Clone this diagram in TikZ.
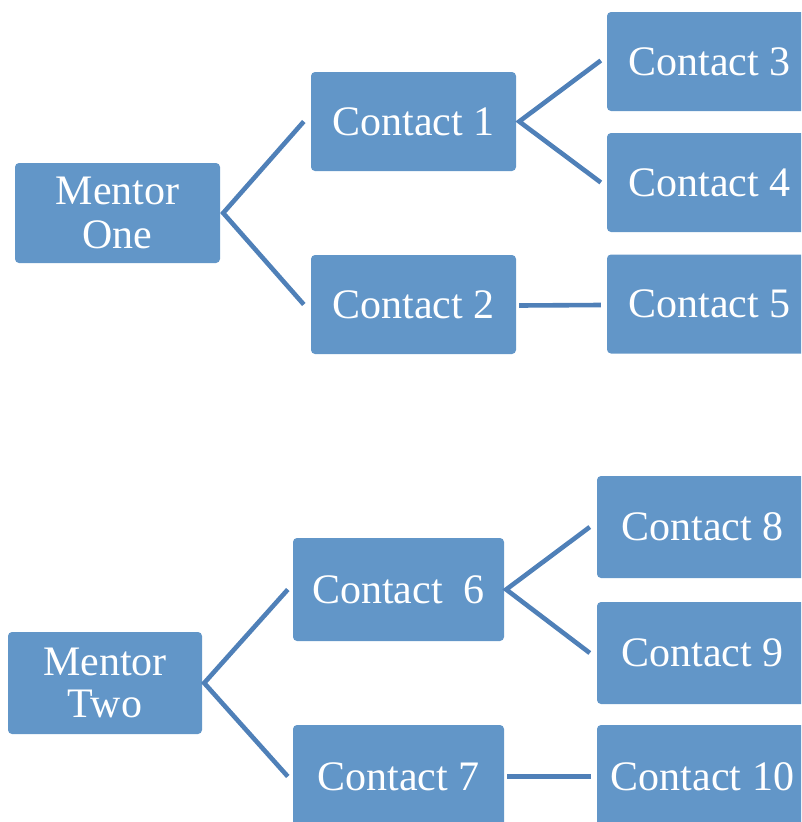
\documentclass[tikz,border=0pt]{standalone}
\usepackage{fontspec}
\setmainfont{Liberation Serif}
\definecolor{boxfill}{RGB}{98,150,200}
\definecolor{linkcol}{RGB}{79,128,184}
\begin{document}
\begin{tikzpicture}[x=1pt,y=-1pt,
  box/.style={rectangle, rounded corners=4pt, fill=boxfill, text=white, inner sep=0pt,
    align=center, font=\fontsize{42}{46}\selectfont},
  link/.style={draw=linkcol, line width=4.6pt}]
\useasboundingbox (0,0) rectangle (801,822);
\clip (0,0) rectangle (801,822);
% top tree
\node[box, minimum width=205pt, minimum height=100pt] (m1) at (117.5,213) {Mentor\\[-2pt]One};
\node[box, minimum width=205pt, minimum height=99pt] (c1) at (413.5,121.5) {Contact 1};
\node[box, minimum width=205pt, minimum height=99pt] (c2) at (413.5,304.5) {Contact 2};
\node[box, minimum width=205pt, minimum height=99pt] (c3) at (709.5,61.5) {Contact 3};
\node[box, minimum width=205pt, minimum height=99pt] (c4) at (709.5,182.5) {Contact 4};
\node[box, minimum width=205pt, minimum height=99pt] (c5) at (709.5,304) {Contact 5};
\coordinate (j1) at ([xshift=3pt]m1.east);
\coordinate (j2) at ([xshift=3pt]c1.east);
\draw[link] ([xshift=-7pt]c1.west) -- (j1) -- ([xshift=-7pt]c2.west);
\draw[link] ([xshift=-6pt,yshift=1pt]c3.west) -- (j2) -- ([xshift=-6pt]c4.west);
\draw[link] ([xshift=3pt,yshift=-1pt]c2.east) -- ([xshift=-6pt,yshift=-1pt]c5.west);
% bottom tree
\node[box, minimum width=194pt, minimum height=102pt] (m2) at (105,683) {Mentor\\[-4pt]Two};
\node[box, minimum width=211pt, minimum height=103pt] (c6) at (398.5,589.5) {Contact~~6};
\node[box, minimum width=211pt, minimum height=103pt] (c7) at (398.5,776.5) {Contact 7};
\node[box, minimum width=211pt, minimum height=102pt] (c8) at (702.5,527) {Contact 8};
\node[box, minimum width=211pt, minimum height=102pt] (c9) at (702.5,653) {Contact 9};
\node[box, minimum width=211pt, minimum height=103pt] (c10) at (702.5,776.5) {Contact 10};
\coordinate (j3) at ([xshift=2pt]m2.east);
\coordinate (j4) at ([xshift=2pt]c6.east);
\draw[link] ([xshift=-5pt]c6.west) -- (j3) -- ([xshift=-5pt]c7.west);
\draw[link] ([xshift=-7pt]c8.west) -- (j4) -- ([xshift=-7pt]c9.west);
\draw[link] ([xshift=3pt]c7.east) -- ([xshift=-6pt]c10.west);
\end{tikzpicture}
\end{document}
